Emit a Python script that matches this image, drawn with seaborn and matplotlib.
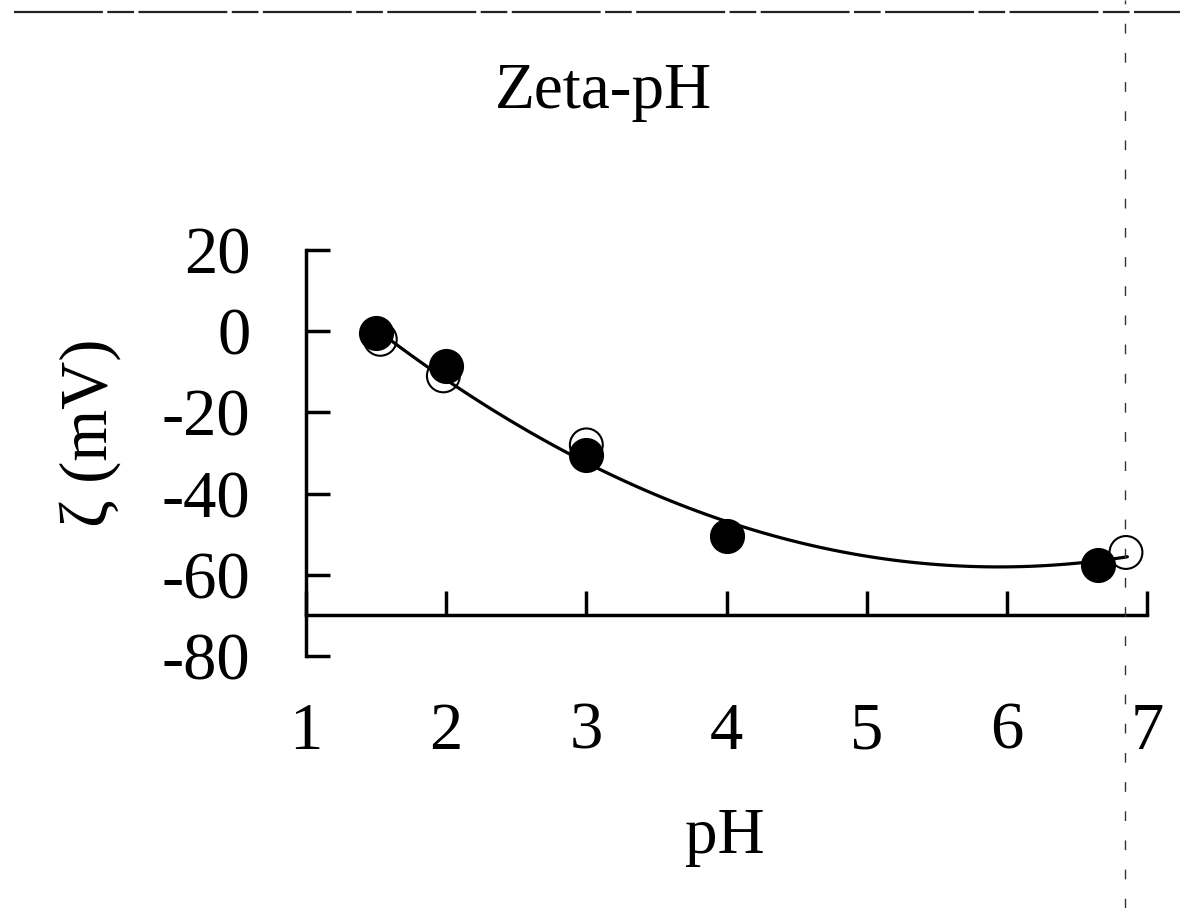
import numpy as np
import pandas as pd
import matplotlib
matplotlib.use("Agg")
import matplotlib.pyplot as plt
from matplotlib.lines import Line2D
import seaborn as sns

# Measured zeta potential (filled and open series)
ph_filled = [1.50, 2.00, 3.00, 4.00, 6.65]
zeta_filled = [-0.5, -8.5, -30.5, -50.5, -57.5]

ph_open = [1.53, 1.98, 3.00, 6.85]
zeta_open = [-2.0, -11.0, -28.0, -54.5]

# Trend curve through the measurements
curve_ph = [1.53, 1.62, 1.86, 2.08, 2.24, 2.60, 2.99, 3.31, 3.67, 4.24, 4.96, 5.67, 6.19, 6.53, 6.86]
curve_zeta = [-1.0, -2.0, -8.6, -13.5, -18.0, -24.8, -32.0, -37.1, -43.0, -49.4, -55.3, -58.1, -58.1, -56.6, -55.6]

x_ticks = [1, 2, 3, 4, 5, 6, 7]
y_ticks = [20, 0, -20, -40, -60, -80]

sns.set_theme(style="white")
plt.rcParams["font.family"] = ["Liberation Serif", "DejaVu Serif"]
plt.rcParams["axes.unicode_minus"] = False
plt.rcParams["text.color"] = "black"

W, H = 1180, 908
fig = plt.figure(figsize=(W / 100, H / 100), dpi=100)
fig.patch.set_facecolor("white")

left, right, top, bottom = 306, 1147, 250, 656
ax = fig.add_axes([left / W, 1 - bottom / H, (right - left) / W, (bottom - top) / H])
ax.set_facecolor("white")

curve = pd.DataFrame({"pH": curve_ph, "zeta": curve_zeta})
sns.regplot(data=curve, x="pH", y="zeta", order=2, ci=None, scatter=False,
            truncate=True, ax=ax, line_kws={"color": "black", "lw": 2.3, "zorder": 2})

sns.scatterplot(x=ph_open, y=zeta_open, ax=ax, marker="o", s=560,
                facecolor="none", edgecolor="black", linewidth=1.5, zorder=3)
sns.scatterplot(x=ph_filled, y=zeta_filled, ax=ax, marker="o", s=640,
                color="black", edgecolor="black", linewidth=0, zorder=4)

ax.set_xlim(1, 7)
ax.set_ylim(-80, 20)
ax.set_xticks(x_ticks)
ax.set_xticklabels([str(v) for v in x_ticks])
ax.set_yticks(y_ticks)
ax.set_yticklabels([str(v) for v in y_ticks])
ax.set_xlabel("")
ax.set_ylabel("")

for side in ("top", "right"):
    ax.spines[side].set_visible(False)
for side in ("left", "bottom"):
    ax.spines[side].set_linewidth(2.5)
    ax.spines[side].set_color("black")
ax.spines["bottom"].set_position(("data", -70))

ax.tick_params(axis="x", direction="in", length=17, width=2.5, pad=62,
               labelsize=48, colors="black", bottom=True)
ax.tick_params(axis="y", direction="in", length=17, width=2.5, pad=40,
               labelsize=48, colors="black", left=True)

fig.text(603 / W, 1 - 108 / H, "Zeta-pH", ha="center", va="baseline",
         fontsize=47, color="black")
fig.text(725 / W, 1 - 853 / H, "pH", ha="center", va="baseline",
         fontsize=47, color="black")
fig.text(90 / W, 1 - 433 / H, "ζ (mV)", ha="center", va="center", rotation=90,
         fontsize=48, color="black")

# Page edge rules
fig.add_artist(Line2D([0.012, 1.0], [1 - 11.5 / H, 1 - 11.5 / H], transform=fig.transFigure,
                      color="#222222", lw=1.6, dashes=(40, 2, 12, 2)))
fig.add_artist(Line2D([1125 / W, 1125 / W], [0.0, 1.0], transform=fig.transFigure,
                      color="#333333", lw=1.0, dashes=(7, 14)))

fig.savefig("out.png", dpi=100, facecolor="white")
